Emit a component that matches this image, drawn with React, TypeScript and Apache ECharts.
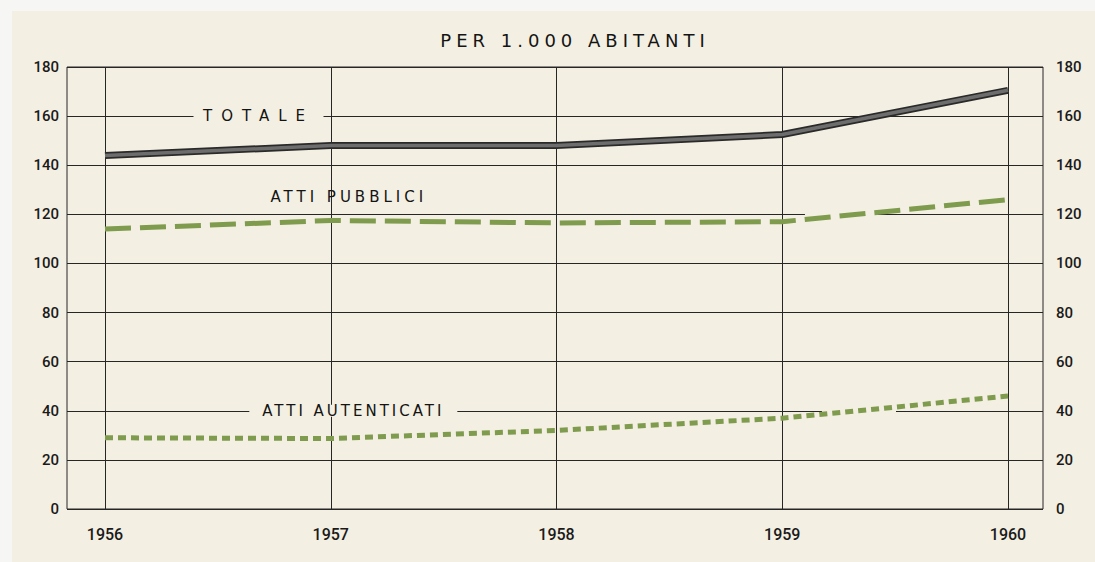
import React, { useEffect, useRef } from 'react';
import * as echarts from 'echarts';

const years = [1956, 1957, 1958, 1959, 1960];
const totale = [144, 148, 148, 152.5, 170.5];
const attiPubblici = [114, 117.5, 116.5, 117, 126];
const attiAutenticati = [29, 28.7, 32, 37, 46];
const yMin = 0;
const yMax = 180;
const yStep = 20;
const titleText = 'PER 1.000 ABITANTI';
const seriesNames = ['TOTALE', 'ATTI PUBBLICI', 'ATTI AUTENTICATI'];

export default function App() {
  const ref = useRef<HTMLDivElement>(null);

  useEffect(() => {
    const el = ref.current as HTMLDivElement;
    const chart = echarts.init(el, null, { renderer: 'svg' });
    const bg = '#f3efe2';
    const gridColor = '#262626';
    const green = '#7f9b4d';
    const numFont = 'Roboto, "DejaVu Sans", sans-serif';
    const labelFont = '"DejaVu Sans", sans-serif';
    const pts = (vals: number[]) => years.map((y, i) => [y, vals[i]]);

    const gap = (x: number, y: number, w: number, h: number) => ({
      coord: [x, y],
      symbol: 'rect',
      symbolSize: [w, h],
      itemStyle: { color: bg },
      label: { show: false },
    });
    const tag = (name: string, x: number, y: number, w: number, h: number, fill: boolean) => ({
      coord: [x, y],
      symbol: 'rect',
      symbolSize: [w, h],
      itemStyle: { color: fill ? bg : 'rgba(0,0,0,0)' },
      label: {
        show: true,
        position: 'inside',
        formatter: name,
        color: '#141414',
        fontSize: 15,
        fontFamily: labelFont,
      },
    });

    const option: any = {
      animation: false,
      backgroundColor: bg,
      graphic: [
        { type: 'rect', shape: { x: 0, y: 0, width: 1095, height: 11 }, style: { fill: '#f6f6f4' }, silent: true },
        { type: 'rect', shape: { x: 0, y: 0, width: 12, height: 562 }, style: { fill: '#f6f6f4' }, silent: true },
        {
          type: 'text',
          x: 575,
          y: 40,
          style: {
            text: titleText,
            textAlign: 'center',
            textVerticalAlign: 'middle',
            fill: '#141414',
            fontSize: 18,
            fontFamily: labelFont,
          },
        },
      ],
      grid: [
        { left: 67, right: 52, top: 67, bottom: 53, show: true, borderColor: gridColor, borderWidth: 1, backgroundColor: 'rgba(0,0,0,0)' },
        { left: 105, right: 87, top: 67, bottom: 53 },
      ],
      xAxis: [
        { gridIndex: 0, type: 'value', min: 0, max: 1, show: false },
        {
          gridIndex: 1,
          type: 'value',
          min: years[0],
          max: years[years.length - 1],
          interval: 1,
          axisLine: { show: false },
          axisTick: { show: false },
          splitLine: { show: true, lineStyle: { color: gridColor, width: 1 } },
          axisLabel: { margin: 17, fontSize: 16, color: '#1a1a1a', fontFamily: numFont, fontWeight: 500, formatter: (v: number) => String(v) },
        },
      ],
      yAxis: [
        {
          gridIndex: 0,
          type: 'value',
          position: 'left',
          min: yMin,
          max: yMax,
          interval: yStep,
          axisLine: { show: false },
          axisTick: { show: false },
          splitLine: { show: true, lineStyle: { color: gridColor, width: 1 } },
          axisLabel: { margin: 8, fontSize: 15, color: '#1a1a1a', fontFamily: numFont, fontWeight: 500 },
        },
        {
          gridIndex: 0,
          type: 'value',
          position: 'right',
          min: yMin,
          max: yMax,
          interval: yStep,
          axisLine: { show: false },
          axisTick: { show: false },
          splitLine: { show: false },
          axisLabel: { margin: 13, fontSize: 15, color: '#1a1a1a', fontFamily: numFont, fontWeight: 500 },
        },
        { gridIndex: 1, type: 'value', min: yMin, max: yMax, show: false },
      ],
      series: [
        {
          name: seriesNames[0],
          type: 'line',
          xAxisIndex: 1,
          yAxisIndex: 2,
          data: pts(totale),
          symbol: 'none',
          z: 3,
          lineStyle: { color: '#2a2a2a', width: 7 },
          markPoint: { z: 1, silent: true, data: [tag(seriesNames[0], 1956.68, 160, 130, 12, true)] },
        },
        {
          name: seriesNames[0] + ' ',
          type: 'line',
          xAxisIndex: 1,
          yAxisIndex: 2,
          data: pts(totale),
          symbol: 'none',
          z: 4,
          lineStyle: { color: '#6d6d6d', width: 3.5 },
        },
        {
          name: seriesNames[1],
          type: 'line',
          xAxisIndex: 1,
          yAxisIndex: 2,
          data: pts(attiPubblici),
          symbol: 'none',
          z: 3,
          lineStyle: { color: green, width: 5, type: [26, 9] },
          markPoint: {
            z: 1,
            silent: true,
            data: [tag(seriesNames[1], 1957.08, 127, 1, 1, false), gap(1959.26, 120, 72, 6)],
          },
        },
        {
          name: seriesNames[2],
          type: 'line',
          xAxisIndex: 1,
          yAxisIndex: 2,
          data: pts(attiAutenticati),
          symbol: 'none',
          z: 3,
          lineStyle: { color: green, width: 5, type: [8, 5] },
          markPoint: {
            z: 1,
            silent: true,
            data: [tag(seriesNames[2], 1957.1, 40, 208, 12, true), gap(1959.34, 40, 74, 6)],
          },
        },
      ],
    };

    chart.setOption(option);

    const spacing: Record<string, number> = {
      [titleText]: 5,
      [seriesNames[0]]: 9,
      [seriesNames[1]]: 4,
      [seriesNames[2]]: 3,
    };
    const applySpacing = () => {
      el.querySelectorAll('text').forEach((t) => {
        const s = spacing[(t.textContent || '').trim()];
        if (s != null) t.setAttribute('letter-spacing', String(s));
      });
    };
    applySpacing();
    chart.on('finished', applySpacing);
    const raf = requestAnimationFrame(applySpacing);
    const to = setTimeout(applySpacing, 50);

    return () => {
      cancelAnimationFrame(raf);
      clearTimeout(to);
      chart.dispose();
    };
  }, []);

  return <div ref={ref} style={{ position: 'absolute', left: 0, top: 0, width: 1095, height: 562 }} />;
}
